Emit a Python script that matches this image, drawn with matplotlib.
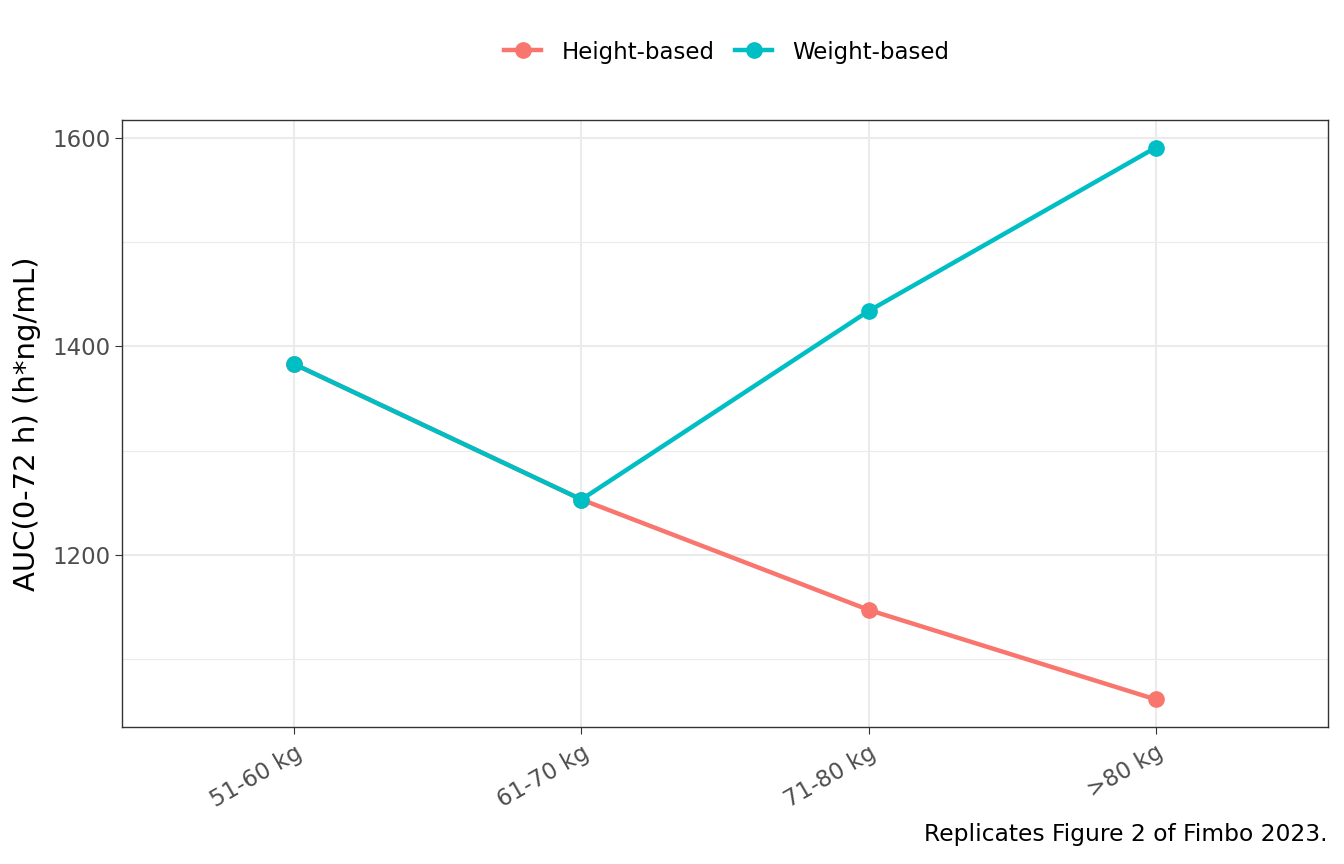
import numpy as np
import matplotlib.pyplot as plt

categories = ["51-60 kg", "61-70 kg", "71-80 kg", ">80 kg"]
height_based = [1383, 1253, 1147, 1061]
weight_based = [1383, 1253, 1434, 1591]
yticks = [1200, 1400, 1600]
minor_yticks = [1100, 1300, 1500]

fig = plt.figure(figsize=(13.44, 8.64), dpi=100)
ax = fig.add_axes([122 / 1344, 1 - 727 / 864, (1328 - 122) / 1344, (727 - 120) / 864])

x = np.arange(len(categories))
ax.plot(x, height_based, "-o", color="#F8766D", lw=3.2, ms=11, label="Height-based", zorder=3)
ax.plot(x, weight_based, "-o", color="#00BFC4", lw=3.2, ms=11, label="Weight-based", zorder=4)

ax.set_xlim(-0.6, 3.6)
lo, hi = min(height_based + weight_based), max(height_based + weight_based)
pad = (hi - lo) * 0.05
ax.set_ylim(lo - pad, hi + pad)

ax.set_xticks(x)
ax.set_xticklabels(categories, rotation=30, ha="right", rotation_mode="anchor",
                   fontsize=16.5, color="#4D4D4D")
ax.set_yticks(yticks)
ax.set_yticks(minor_yticks, minor=True)
ax.tick_params(axis="y", labelsize=16.5, labelcolor="#4D4D4D", length=5, color="#333333")
ax.tick_params(axis="x", length=5, color="#333333", pad=5)
ax.tick_params(which="minor", length=0)
ax.grid(which="major", color="#EBEBEB", lw=1.5, zorder=0)
ax.grid(which="minor", axis="y", color="#EBEBEB", lw=0.8, zorder=0)
ax.set_axisbelow(True)
for s in ax.spines.values():
    s.set_color("#333333")
    s.set_linewidth(1)

ax.set_ylabel("AUC(0-72 h) (h*ng/mL)", fontsize=21, labelpad=8)

fig.legend(*ax.get_legend_handles_labels(), loc="center", bbox_to_anchor=(727 / 1344, 1 - 52 / 864),
           ncol=2, frameon=False, fontsize=16.5, handlelength=1.6, columnspacing=0.9,
           handletextpad=0.9)
fig.text(1328 / 1344, 1 - 834 / 864, "Replicates Figure 2 of Fimbo 2023.",
         ha="right", va="center", fontsize=16.8)

fig.savefig("out.png", dpi=100)
